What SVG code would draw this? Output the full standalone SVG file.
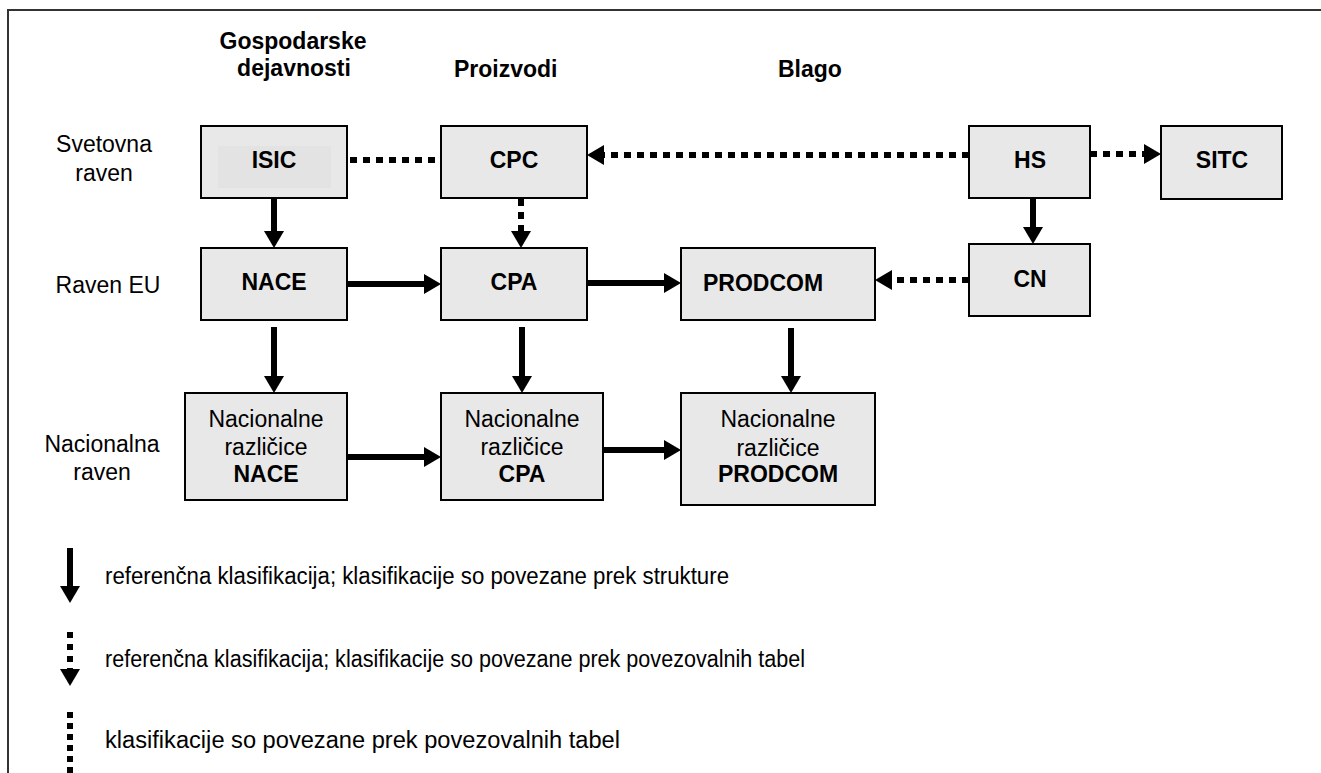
<svg xmlns="http://www.w3.org/2000/svg" width="1321" height="773" viewBox="0 0 1321 773">
<style>
  .box{fill:#e8e8e8;stroke:#000;stroke-width:2}
  .t{font-family:"Liberation Sans",Arial,sans-serif;font-size:23px;fill:#000}
  .b{font-weight:bold}
  .m{text-anchor:middle}
  .solid{stroke:#000;stroke-width:6;fill:none}
  .dot{stroke:#000;stroke-width:6;fill:none;stroke-dasharray:7 6}
</style>
<defs>
  <marker id="ah" markerUnits="userSpaceOnUse" markerWidth="18" markerHeight="22" refX="0" refY="10" orient="auto" overflow="visible">
    <path d="M0,0 L17,10 L0,20 Z" fill="#000"/>
  </marker>
</defs>
<rect width="1321" height="773" fill="#fff"/>
<path d="M8,773 V10 H1321" fill="none" stroke="#333" stroke-width="2"/>

<g id="headers">
  <text class="t b m" x="293" y="49">Gospodarske</text>
  <text class="t b m" x="294" y="76">dejavnosti</text>
  <text class="t b" x="454" y="77">Proizvodi</text>
  <text class="t b" x="778" y="77">Blago</text>
</g>
<g id="rowlabels">
  <text class="t m" x="104" y="152">Svetovna</text>
  <text class="t m" x="104" y="181">raven</text>
  <text class="t m" x="108" y="293">Raven EU</text>
  <text class="t m" x="102" y="452">Nacionalna</text>
  <text class="t m" x="102" y="480">raven</text>
</g>

<g id="connectors">
  <line class="dot" x1="350" y1="160" x2="441" y2="160"/>
  <line class="dot" x1="969" y1="155" x2="604" y2="155" marker-end="url(#ah)"/>
  <line class="dot" x1="1090" y1="154" x2="1144" y2="154" marker-end="url(#ah)"/>
  <line class="solid" x1="274" y1="198" x2="274" y2="231" marker-end="url(#ah)"/>
  <line class="dot" x1="521" y1="199" x2="521" y2="231" marker-end="url(#ah)"/>
  <line class="solid" x1="1033" y1="198" x2="1033" y2="227" marker-end="url(#ah)"/>
  <line class="solid" x1="347" y1="284" x2="424" y2="284" marker-end="url(#ah)"/>
  <line class="solid" x1="587" y1="283" x2="664" y2="283" marker-end="url(#ah)"/>
  <line class="dot" x1="969" y1="280" x2="892" y2="280" marker-end="url(#ah)"/>
  <line class="solid" x1="274" y1="327" x2="274" y2="376" marker-end="url(#ah)"/>
  <line class="solid" x1="522" y1="327" x2="522" y2="376" marker-end="url(#ah)"/>
  <line class="solid" x1="791" y1="328" x2="791" y2="376" marker-end="url(#ah)"/>
  <line class="solid" x1="347" y1="457" x2="424" y2="457" marker-end="url(#ah)"/>
  <line class="solid" x1="603" y1="450" x2="664" y2="450" marker-end="url(#ah)"/>
</g>

<g id="ISIC">
  <rect class="box" x="201" y="126" width="146" height="72"/>
  <rect x="218" y="146" width="113" height="42" fill="#e3e3e3"/>
  <text class="t b m" x="274" y="168">ISIC</text>
</g>
<g id="CPC">
  <rect class="box" x="441" y="126" width="146" height="72"/>
  <text class="t b m" x="514" y="168">CPC</text>
</g>
<g id="HS">
  <rect class="box" x="969" y="126" width="121" height="72"/>
  <text class="t b m" x="1030" y="168">HS</text>
</g>
<g id="SITC">
  <rect class="box" x="1161" y="126" width="121" height="73"/>
  <text class="t b m" x="1222" y="168">SITC</text>
</g>
<g id="NACE">
  <rect class="box" x="201" y="248" width="146" height="72"/>
  <text class="t b m" x="274" y="290">NACE</text>
</g>
<g id="CPA">
  <rect class="box" x="441" y="248" width="146" height="72"/>
  <text class="t b m" x="514" y="290">CPA</text>
</g>
<g id="PRODCOM">
  <rect class="box" x="681" y="248" width="194" height="72"/>
  <text class="t b" x="703" y="291">PRODCOM</text>
</g>
<g id="CN">
  <rect class="box" x="969" y="244" width="121" height="72"/>
  <text class="t b m" x="1030" y="287">CN</text>
</g>
<g id="NatNACE">
  <rect class="box" x="185" y="393" width="162" height="107"/>
  <text class="t m" x="266" y="427">Nacionalne</text>
  <text class="t m" x="266" y="455">različice</text>
  <text class="t b m" x="266" y="482">NACE</text>
</g>
<g id="NatCPA">
  <rect class="box" x="441" y="393" width="162" height="107"/>
  <text class="t m" x="522" y="427">Nacionalne</text>
  <text class="t m" x="522" y="455">različice</text>
  <text class="t b m" x="522" y="482">CPA</text>
</g>
<g id="NatPRODCOM">
  <rect class="box" x="681" y="393" width="194" height="112"/>
  <text class="t m" x="778" y="427">Nacionalne</text>
  <text class="t m" x="778" y="456">različice</text>
  <text class="t b m" x="778" y="482">PRODCOM</text>
</g>

<g id="legend">
  <line class="solid" x1="70" y1="548" x2="70" y2="586" marker-end="url(#ah)"/>
  <text class="t" x="105" y="584" textLength="624" lengthAdjust="spacingAndGlyphs">referenčna klasifikacija; klasifikacije so povezane prek strukture</text>
  <line x1="70" y1="632" x2="70" y2="669" stroke="#000" stroke-width="6" stroke-dasharray="6 6" marker-end="url(#ah)"/>
  <text class="t" x="105" y="667" textLength="700" lengthAdjust="spacingAndGlyphs">referenčna klasifikacija; klasifikacije so povezane prek povezovalnih tabel</text>
  <line x1="70" y1="712" x2="70" y2="773" stroke="#000" stroke-width="6" stroke-dasharray="6 5"/>
  <text class="t" x="105" y="748" textLength="515" lengthAdjust="spacingAndGlyphs">klasifikacije so povezane prek povezovalnih tabel</text>
</g>
</svg>
